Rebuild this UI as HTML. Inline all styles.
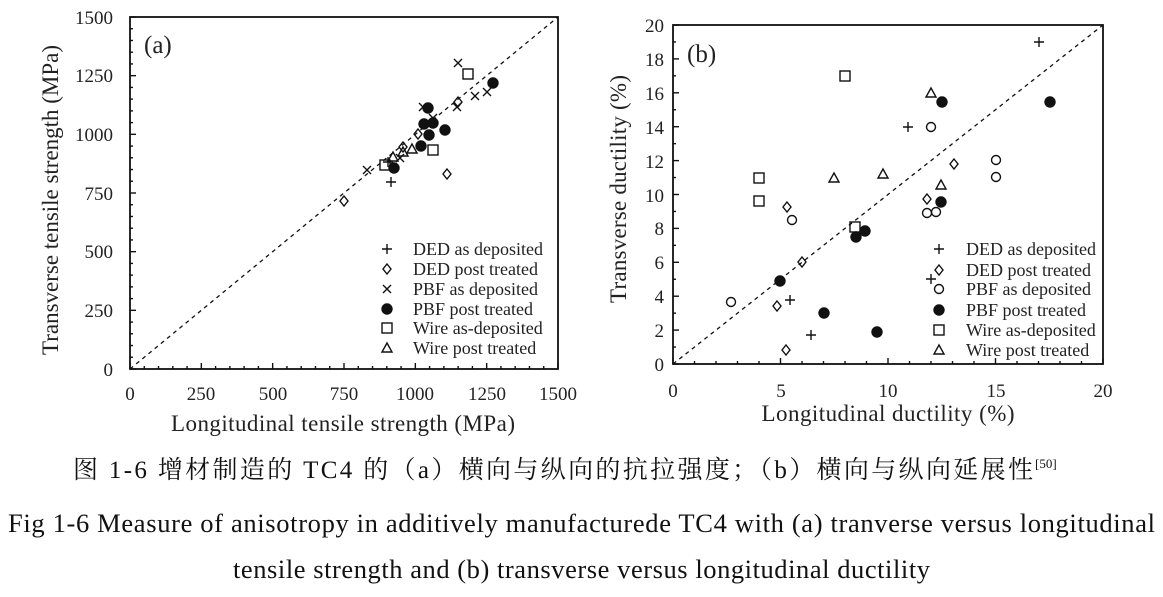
<!DOCTYPE html>
<html><head><meta charset="utf-8"><style>
body{margin:0;background:#fff;}
svg,svg text{font-family:"Liberation Serif","Noto Serif CJK SC",serif;}
svg{display:block;}
</style></head><body>
<svg id="s" width="1163" height="597" xmlns="http://www.w3.org/2000/svg" font-family="'Liberation Serif','Noto Serif CJK SC',serif">
<rect width="1163" height="597" fill="#fff"/>
<g id="g" stroke="#111" fill="none" stroke-width="1.4"></g>
<g font-size="19" fill="#222" text-anchor="end">
<text x="113" y="24">1500</text><text x="113" y="82">1250</text><text x="113" y="141">1000</text>
<text x="113" y="200">750</text><text x="113" y="258">500</text><text x="113" y="317">250</text><text x="113" y="376">0</text>
</g>
<g font-size="19" fill="#222" text-anchor="middle">
<text x="130" y="400">0</text><text x="201" y="400">250</text><text x="273" y="400">500</text><text x="344" y="400">750</text>
<text x="415" y="400">1000</text><text x="487" y="400">1250</text><text x="558" y="400">1500</text>
<text x="343" y="431" font-size="23" textLength="344" lengthAdjust="spacing">Longitudinal tensile strength (MPa)</text>
<text transform="translate(58,200) rotate(-90)" font-size="23" textLength="310" lengthAdjust="spacing">Transverse tensile strength (MPa)</text>
</g>
<g font-size="19" fill="#222" text-anchor="end">
<text x="664" y="32">20</text><text x="664" y="66">18</text><text x="664" y="100">16</text><text x="664" y="134">14</text>
<text x="664" y="168">12</text><text x="664" y="202">10</text><text x="664" y="235">8</text><text x="664" y="269">6</text>
<text x="664" y="303">4</text><text x="664" y="337">2</text><text x="664" y="371">0</text>
</g>
<g font-size="19" fill="#222" text-anchor="middle">
<text x="673" y="397">0</text><text x="781" y="397">5</text><text x="888" y="397">10</text><text x="996" y="397">15</text><text x="1103" y="397">20</text>
<text x="888" y="421" font-size="23" textLength="253" lengthAdjust="spacing">Longitudinal ductility (%)</text>
<text transform="translate(626,189) rotate(-90)" font-size="23" textLength="228" lengthAdjust="spacing">Transverse ductility (%)</text>
</g>
<text x="144" y="53" font-size="25" fill="#222">(a)</text>
<text x="687" y="62" font-size="25" fill="#222">(b)</text>
<g font-size="18" fill="#222">
<text x="413" y="255">DED as deposited</text><text x="413" y="275">DED post treated</text>
<text x="413" y="295">PBF as deposited</text><text x="413" y="315">PBF post treated</text>
<text x="413" y="334">Wire as-deposited</text><text x="413" y="354">Wire post treated</text>
<text x="966" y="255">DED as deposited</text><text x="966" y="276">DED post treated</text>
<text x="966" y="295">PBF as deposited</text><text x="966" y="316">PBF post treated</text>
<text x="966" y="336">Wire as-deposited</text><text x="966" y="356">Wire post treated</text>
</g>
<g fill="#111">
<text x="73" y="478" font-size="25" textLength="960" lengthAdjust="spacing">图 1-6  增材制造的 TC4 的（a）横向与纵向的抗拉强度；（b）横向与纵向延展性</text>
<text x="1035" y="468" font-size="13">[50]</text>
<text x="8" y="532" font-size="26.5" textLength="1147" lengthAdjust="spacing">Fig 1-6 Measure of anisotropy in additively manufacturede TC4 with (a) tranverse versus longitudinal</text>
<text x="233" y="578" font-size="26.5" textLength="697" lengthAdjust="spacing">tensile strength and (b) transverse versus longitudinal ductility</text>
</g>
</svg>
<script>
const g=document.getElementById('g');const NS='http://www.w3.org/2000/svg';
function el(t,a){const e=document.createElementNS(NS,t);for(const k in a)e.setAttribute(k,a[k]);g.appendChild(e);return e;}
function frame(x0,y0,x1,y1,nx,ny,minx,miny){
 el('rect',{x:x0,y:y0,width:x1-x0,height:y1-y0,'stroke-width':1.8});
 for(let i=0;i<=nx*minx;i++){const x=x0+(x1-x0)*i/(nx*minx);const L=i%minx==0?6:3;
  el('line',{x1:x,y1:y1,x2:x,y2:y1-L});}
 for(let i=0;i<=ny*miny;i++){const y=y1-(y1-y0)*i/(ny*miny);const L=i%miny==0?6:3;
  el('line',{x1:x0,y1:y,x2:x0+L,y2:y});}
 el('line',{x1:x0,y1:y1,x2:x1,y2:y0,'stroke-dasharray':'4,4','stroke-width':1.3});
}
frame(130,17,558,369,6,6,5,5);
frame(673,25,1103,364,4,10,5,2);
function m(t,x,y){
 if(t=='+'){el('path',{d:`M${x-5} ${y}h10M${x} ${y-5}v10`});}
 else if(t=='x'){el('path',{d:`M${x-4} ${y-4}l8 8M${x+4} ${y-4}l-8 8`});}
 else if(t=='d'){el('path',{d:`M${x} ${y-5}l4 5l-4 5l-4 -5z`});}
 else if(t=='o'){el('circle',{cx:x,cy:y,r:4.5});}
 else if(t=='f'){el('circle',{cx:x,cy:y,r:5,fill:'#111'});}
 else if(t=='s'){el('rect',{x:x-5,y:y-5,width:10,height:10});}
 else if(t=='t'){el('path',{d:`M${x} ${y-5}l5 9h-10z`});}
}
const A=[['f',428,108],['f',424,124],['f',429,135],['f',433,123],['f',445,130],['f',421,146],['f',394,168],['f',493,83],
['s',468,74],['s',433,150],['s',385,165],
['x',458,63],['x',475,96],['x',487,92],['x',457,107],['x',367,170],['x',423,107],['x',433,118],['x',400,158],
['d',447,174],['d',344,201],['d',418,134],['d',403,147],['d',458,102],
['+',391,182],['+',388,162],['t',412,149],['t',403,152],['t',393,157],
['+',387,249],['d',387,269],['x',387,289],['f',387,309],['s',387,328],['t',387,348]];
const B=[['+',1039,42],['+',908,127],['+',790,300],['+',811,335],['+',931,279],
['d',787,207],['d',954,164],['d',927,199],['d',777,306],['d',786,350],['d',802,262],
['o',792,220],['o',731,302],['o',931,127],['o',927,213],['o',936,212],['o',996,160],['o',996,177],
['f',942,102],['f',1050,102],['f',941,202],['f',865,231],['f',856,237],['f',780,281],['f',824,313],['f',877,332],
['s',845,76],['s',759,178],['s',759,201],['s',855,227],
['t',931,93],['t',834,178],['t',883,174],['t',941,185],
['+',939,249],['d',939,270],['o',939,289],['f',939,310],['s',939,330],['t',939,350]];
A.concat(B).forEach(p=>m(...p));
</script>
</body></html>
